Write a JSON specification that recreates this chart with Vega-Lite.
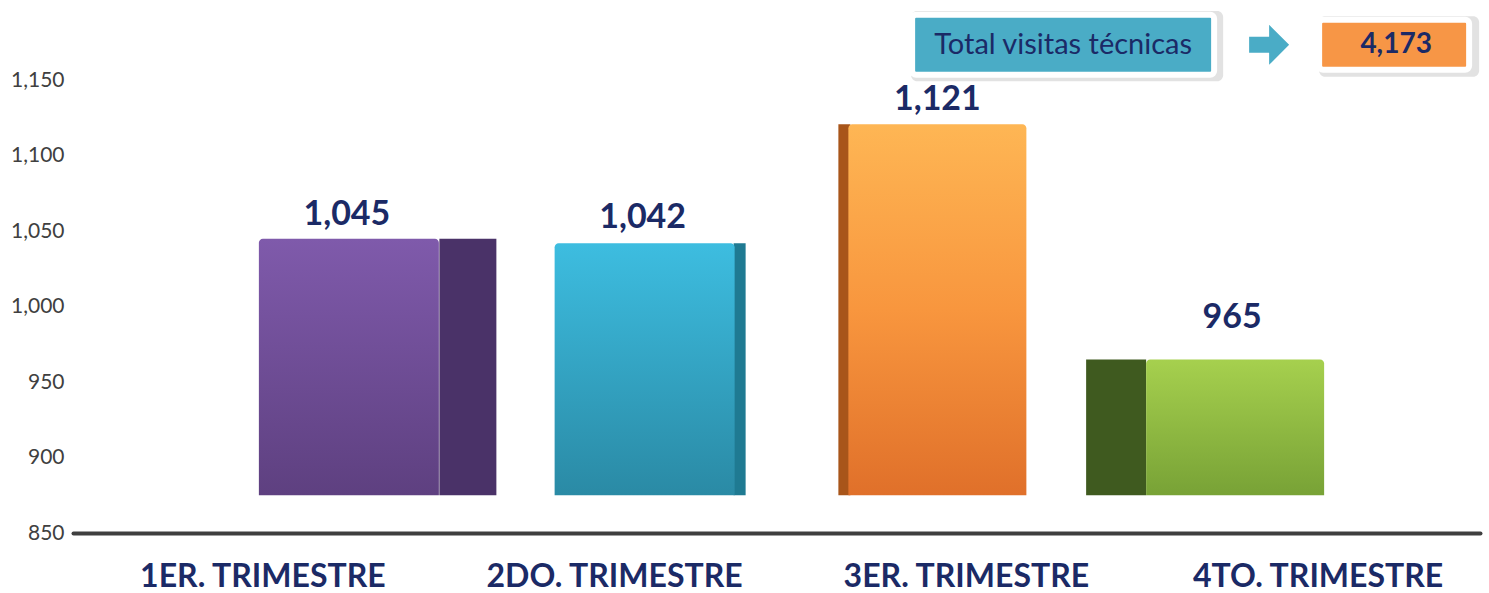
{
  "$schema": "https://vega.github.io/schema/vega-lite/v6.json",
  "width": 1407,
  "height": 528,
  "autosize": {"type": "none"},
  "padding": {"left": 73, "top": 5, "right": 9, "bottom": 60},
  "background": "#ffffff",
  "config": {"view": {"stroke": null}, "font": "Lato"},
  "data": {"values": [
    {"q": "1ER. TRIMESTRE", "v": 1045},
    {"q": "2DO. TRIMESTRE", "v": 1042},
    {"q": "3ER. TRIMESTRE", "v": 1121},
    {"q": "4TO. TRIMESTRE", "v": 965}
  ]},
  "layer": [
    {
      "encoding": {
        "x": {"field": "q", "type": "nominal", "sort": null,
          "scale": {"paddingInner": 0, "paddingOuter": 0},
          "axis": {"title": null, "labelAngle": 0, "labelFont": "Lato", "labelFontWeight": "bold", "labelFontSize": 32, "labelColor": "#1b2a66", "labelPadding": 28, "labelOffset": 14, "labelLimit": 500, "ticks": false, "domainColor": "#3f3f3f", "domainWidth": 4, "domainCap": "round"}},
        "y": {"field": "v", "type": "quantitative",
          "scale": {"domain": [850, 1200], "nice": false, "zero": false},
          "axis": {"title": null, "values": [850, 900, 950, 1000, 1050, 1100, 1150], "format": ",d", "grid": false, "domain": false, "ticks": false, "labelFont": "Lato", "labelFontSize": 21, "labelColor": "#404040", "labelPadding": 9}}
      },
      "layer": [
        {"transform": [{"filter": "datum.q == '1ER. TRIMESTRE'"}],
         "layer": [
          {"mark": {"type": "bar", "width": 57, "xOffset": 219, "color": "#4a3268"}, "encoding": {"y2": {"datum": 875}}},
          {"mark": {"type": "bar", "width": 180, "xOffset": 100, "cornerRadiusTopLeft": 4, "cornerRadiusTopRight": 4,
            "color": {"gradient": "linear", "x1": 0, "y1": 0, "x2": 0, "y2": 1, "stops": [{"offset": 0, "color": "#7f5aab"}, {"offset": 1, "color": "#5e4080"}]}},
           "encoding": {"y2": {"datum": 875}}},
          {"mark": {"type": "text", "dx": 98, "dy": -24, "font": "Lato", "fontWeight": "bold", "fontSize": 34, "color": "#1b2a66", "baseline": "middle"},
           "encoding": {"text": {"field": "v", "type": "quantitative", "format": ","}}}
         ]},
        {"transform": [{"filter": "datum.q == '2DO. TRIMESTRE'"}],
         "layer": [
          {"mark": {"type": "bar", "width": 12, "xOffset": 139, "color": "#1f7a92"}, "encoding": {"y2": {"datum": 875}}},
          {"mark": {"type": "bar", "width": 180, "xOffset": 44, "cornerRadiusTopLeft": 4, "cornerRadiusTopRight": 4,
            "color": {"gradient": "linear", "x1": 0, "y1": 0, "x2": 0, "y2": 1, "stops": [{"offset": 0, "color": "#3dbde0"}, {"offset": 1, "color": "#2a8aa5"}]}},
           "encoding": {"y2": {"datum": 875}}},
          {"mark": {"type": "text", "dx": 42, "dy": -25, "font": "Lato", "fontWeight": "bold", "fontSize": 34, "color": "#1b2a66", "baseline": "middle"},
           "encoding": {"text": {"field": "v", "type": "quantitative", "format": ","}}}
         ]},
        {"transform": [{"filter": "datum.q == '3ER. TRIMESTRE'"}],
         "layer": [
          {"mark": {"type": "bar", "width": 12, "xOffset": -108, "color": "#a8551a"}, "encoding": {"y2": {"datum": 875}}},
          {"mark": {"type": "bar", "width": 178, "xOffset": -15, "cornerRadiusTopLeft": 4, "cornerRadiusTopRight": 4,
            "color": {"gradient": "linear", "x1": 0, "y1": 0, "x2": 0, "y2": 1, "stops": [{"offset": 0, "color": "#feb654"}, {"offset": 0.5, "color": "#f8963e"}, {"offset": 1, "color": "#e0702a"}]}},
           "encoding": {"y2": {"datum": 875}}},
          {"mark": {"type": "text", "dx": -15, "dy": -24, "font": "Lato", "fontWeight": "bold", "fontSize": 34, "color": "#1b2a66", "baseline": "middle"},
           "encoding": {"text": {"field": "v", "type": "quantitative", "format": ","}}}
         ]},
        {"transform": [{"filter": "datum.q == '4TO. TRIMESTRE'"}],
         "layer": [
          {"mark": {"type": "bar", "width": 60, "xOffset": -188, "color": "#3f5a1f"}, "encoding": {"y2": {"datum": 875}}},
          {"mark": {"type": "bar", "width": 178, "xOffset": -69, "cornerRadiusTopLeft": 4, "cornerRadiusTopRight": 4,
            "color": {"gradient": "linear", "x1": 0, "y1": 0, "x2": 0, "y2": 1, "stops": [{"offset": 0, "color": "#a6d04e"}, {"offset": 1, "color": "#78a236"}]}},
           "encoding": {"y2": {"datum": 875}}},
          {"mark": {"type": "text", "dx": -72, "dy": -42, "font": "Lato", "fontWeight": "bold", "fontSize": 34, "color": "#1b2a66", "baseline": "middle"},
           "encoding": {"text": {"field": "v", "type": "quantitative", "format": ","}}}
         ]}
      ]
    },
    {"data": {"values": [{"label": "Total visitas técnicas"}]},
     "mark": {"type": "bar", "width": 312, "xOffset": -237, "color": "#cfcfcf", "opacity": 0.6, "cornerRadius": 6},
     "encoding": {"x": {"datum": "4TO. TRIMESTRE", "type": "nominal"}, "y": {"datum": 1196, "type": "quantitative"}, "y2": {"datum": 1149.5}}},
    {"data": {"values": [{"label": "Total visitas técnicas"}]},
     "mark": {"type": "bar", "width": 302, "xOffset": -241, "color": "#4aacc6", "stroke": "#ffffff", "strokeWidth": 6, "cornerRadius": 4},
     "encoding": {"x": {"datum": "4TO. TRIMESTRE", "type": "nominal"}, "y": {"datum": 1193.5, "type": "quantitative"}, "y2": {"datum": 1153.7}}},
    {"data": {"values": [{"label": "Total visitas técnicas"}]},
     "mark": {"type": "text", "dx": -241, "font": "Lato", "fontSize": 29, "color": "#1b2a66", "baseline": "middle"},
     "encoding": {"x": {"datum": "4TO. TRIMESTRE", "type": "nominal"}, "y": {"datum": 1173.6, "type": "quantitative"}, "text": {"field": "label", "type": "nominal"}}},
    {"data": {"values": [{"label": "arrow"}]},
     "mark": {"type": "point", "filled": true, "opacity": 1, "xOffset": -35, "color": "#4aacc6", "size": 1600,
       "shape": "M-1,-0.4L0,-0.4L0,-1L1,0L0,1L0,0.4L-1,0.4Z"},
     "encoding": {"x": {"datum": "4TO. TRIMESTRE", "type": "nominal"}, "y": {"datum": 1173.6, "type": "quantitative"}}},
    {"data": {"values": [{"total": 4173}]},
     "mark": {"type": "bar", "width": 160, "xOffset": 95, "color": "#cfcfcf", "opacity": 0.6, "cornerRadius": 6},
     "encoding": {"x": {"datum": "4TO. TRIMESTRE", "type": "nominal"}, "y": {"datum": 1192.5, "type": "quantitative"}, "y2": {"datum": 1152.5}}},
    {"data": {"values": [{"total": 4173}]},
     "mark": {"type": "bar", "width": 150, "xOffset": 90, "color": "#f79646", "stroke": "#ffffff", "strokeWidth": 6, "cornerRadius": 4},
     "encoding": {"x": {"datum": "4TO. TRIMESTRE", "type": "nominal"}, "y": {"datum": 1190.2, "type": "quantitative"}, "y2": {"datum": 1157}}},
    {"data": {"values": [{"total": 4173}]},
     "mark": {"type": "text", "dx": 92, "font": "Lato", "fontWeight": "bold", "fontSize": 28, "color": "#1b2a66", "baseline": "middle"},
     "encoding": {"x": {"datum": "4TO. TRIMESTRE", "type": "nominal"}, "y": {"datum": 1173.6, "type": "quantitative"}, "text": {"field": "total", "type": "quantitative", "format": ","}}}
  ]
}
